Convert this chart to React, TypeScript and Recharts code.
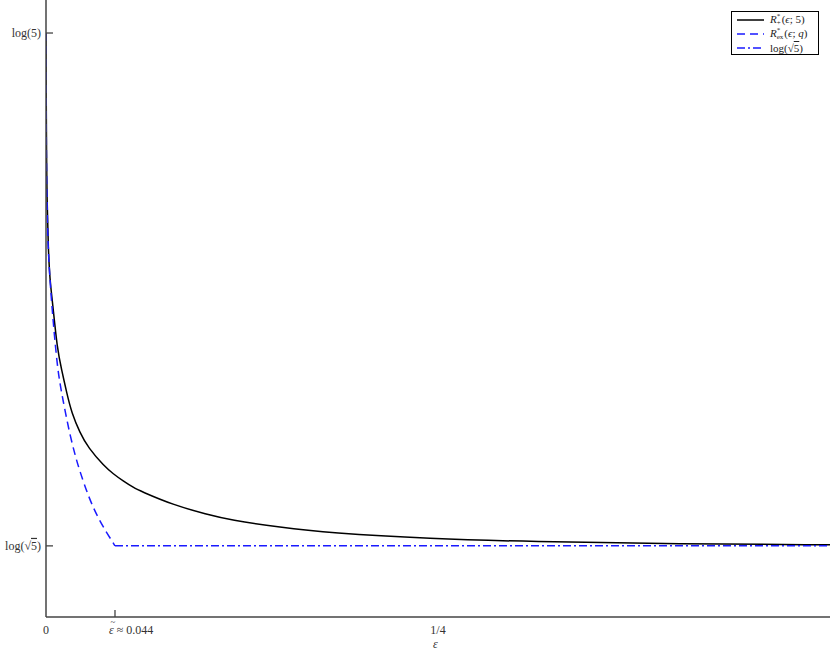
import React from 'react';
import { LineChart, Line, XAxis, YAxis } from 'recharts';

// R_+^*(eps; 5)
const epsSolid = [0, 0.00013, 0.00032, 0.00064, 0.00147, 0.00255, 0.00402, 0.00721, 0.01001, 0.0132, 0.01639, 0.02168, 0.02698, 0.03699, 0.04292, 0.04911, 0.05612, 0.05995, 0.081, 0.1027, 0.1173, 0.1492, 0.1811, 0.2449, 0.3087, 0.4043, 0.5];
const valSolid = [1.6094, 1.5043, 1.4259, 1.3474, 1.269, 1.2204, 1.1906, 1.1121, 1.0808, 1.0447, 1.0133, 0.982, 0.9584, 0.9302, 0.9176, 0.9067, 0.8957, 0.891, 0.869, 0.8541, 0.8455, 0.8337, 0.8251, 0.816, 0.8113, 0.8078, 0.8063];

// R_ex^*(eps; q)
const epsDashed = [0, 0.00013, 0.00064, 0.00128, 0.00338, 0.00619, 0.00797, 0.0102, 0.01244, 0.01531, 0.0185, 0.02168, 0.02742, 0.03253, 0.03871, 0.04209, 0.044];
const valDashed = [1.6094, 1.4259, 1.3474, 1.269, 1.1906, 1.1121, 1.0729, 1.0416, 1.0133, 0.9788, 0.9474, 0.9208, 0.88, 0.8518, 0.8251, 0.8125, 0.8047];

// log(sqrt 5) plateau
const epsFlat = [0.044, 0.5];
const valFlat = [0.8047, 0.8047];

const xTicks = [0, 0.044, 0.25];
const yTicks = [0.8047, 1.6094];

const solidData = epsSolid.map((e, i) => ({ eps: e, v: valSolid[i] }));
const dashedData = epsDashed.map((e, i) => ({ eps: e, v: valDashed[i] }));
const flatData = epsFlat.map((e, i) => ({ eps: e, v: valFlat[i] }));

const FONT = '"Liberation Serif", serif';
const AXIS = '#444';
const BLUE = '#1a1aff';
const DASH = '8 5';
const DASHDOT = '8 3 2 3';

function Sqrt5() {
  return (
    <>
      log(√<tspan textDecoration="overline">5</tspan>)
    </>
  );
}

function YTick(props: any) {
  const { x, y, payload } = props;
  const isTop = payload.value > 1.2;
  return (
    <g>
      <line x1={x} y1={y} x2={x + 7} y2={y} stroke={AXIS} strokeWidth={1.3} />
      <text x={x - 5} y={y + 4} textAnchor="end" fontSize={12} fontFamily={FONT} fill="#333">
        {isTop ? 'log(5)' : <Sqrt5 />}
      </text>
    </g>
  );
}

function XTick(props: any) {
  const { x, y, payload } = props;
  const v = payload.value;
  if (v === 0 || v === 0.25) {
    return (
      <text x={x} y={y + 17} textAnchor="middle" fontSize={12} fontFamily={FONT} fill="#333">
        {v === 0 ? '0' : '1/4'}
      </text>
    );
  }
  // label sits to the right of its tick, as in the reference
  return (
    <g>
      <line x1={x} y1={y} x2={x} y2={y - 7} stroke={AXIS} strokeWidth={1.3} />
      <text x={x - 6} y={y + 17} fontSize={12} fontFamily={FONT} fill="#333">
        <tspan fontStyle="italic">ε</tspan> ≈ 0.044
      </text>
      <text x={x - 2} y={y + 8} textAnchor="middle" fontSize={9} fontFamily={FONT} fill="#333">
        ~
      </text>
    </g>
  );
}

function Stack({ top, bottom }: { top: string; bottom: string }) {
  return (
    <span style={{ display: 'inline-flex', flexDirection: 'column', fontSize: 7, lineHeight: '7px', verticalAlign: 'middle', marginRight: 1 }}>
      <span>{top}</span>
      <span>{bottom}</span>
    </span>
  );
}

function LegendRow({ dash, color, children }: { dash?: string; color: string; children: React.ReactNode }) {
  return (
    <div style={{ display: 'flex', alignItems: 'center', height: 14 }}>
      <svg width={30} height={6} style={{ marginRight: 4 }}>
        <line x1={1} x2={28} y1={3} y2={3} stroke={color} strokeWidth={1.5} strokeDasharray={dash} />
      </svg>
      <span>{children}</span>
    </div>
  );
}

function LegendBox() {
  return (
    <div
      style={{
        position: 'absolute', left: 731, top: 11, width: 88, height: 44,
        border: '1px solid #000', background: '#fff', padding: '1px 0 0 4px',
        fontFamily: FONT, fontSize: 11, color: '#222', boxSizing: 'border-box',
      }}
    >
      <LegendRow color="#000">
        <i>R</i><Stack top="*" bottom="+" />(<i>ϵ</i>; 5)
      </LegendRow>
      <LegendRow color={BLUE} dash={DASH}>
        <i>R</i><Stack top="*" bottom="ex" />(<i>ϵ</i>; <i>q</i>)
      </LegendRow>
      <LegendRow color={BLUE} dash={DASHDOT}>
        log(√<span style={{ textDecoration: 'overline' }}>5</span>)
      </LegendRow>
    </div>
  );
}

export default function App() {
  return (
    <div style={{ position: 'absolute', left: 0, top: 0, width: 830, height: 652, background: '#fff' }}>
      <LineChart width={830} height={652} margin={{ top: 0, right: 0, bottom: 0, left: 0 }}>
        <XAxis
          type="number"
          dataKey="eps"
          domain={[0, 0.5]}
          ticks={xTicks}
          tickSize={0}
          tickMargin={0}
          tickLine={false}
          tick={<XTick />}
          stroke={AXIS}
          strokeWidth={1.5}
          height={35}
          allowDataOverflow
          interval={0}
        />
        <YAxis
          type="number"
          domain={[0.6931, 1.6612]}
          ticks={yTicks}
          tickSize={0}
          tickMargin={0}
          tickLine={false}
          tick={<YTick />}
          stroke={AXIS}
          strokeWidth={1.5}
          width={46}
          allowDataOverflow
          interval={0}
        />
        <Line data={solidData} dataKey="v" type="basis" stroke="#000" strokeWidth={1.5} dot={false} isAnimationActive={false} />
        <Line data={dashedData} dataKey="v" type="basis" stroke={BLUE} strokeWidth={1.5} strokeDasharray={DASH} dot={false} isAnimationActive={false} />
        <Line data={flatData} dataKey="v" type="linear" stroke={BLUE} strokeWidth={1.5} strokeDasharray={DASHDOT} dot={false} isAnimationActive={false} />
      </LineChart>
      <LegendBox />
      <div style={{ position: 'absolute', left: 433, top: 637, fontFamily: FONT, fontStyle: 'italic', fontSize: 12, color: '#333' }}>ε</div>
    </div>
  );
}
